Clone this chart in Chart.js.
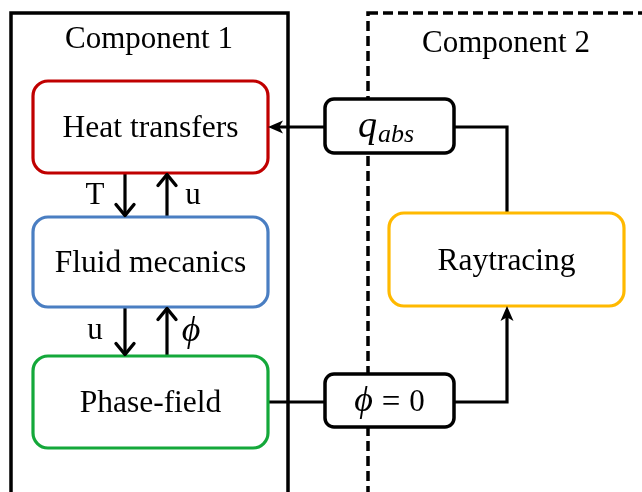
<!DOCTYPE html>
<html>
<head>
<meta charset="utf-8">
<script src="https://cdn.jsdelivr.net/npm/chart.js@4.4.0/dist/chart.umd.min.js"></script>
<style>
  html, body { margin: 0; padding: 0; background: #fff; }
  canvas { display: block; }
</style>
</head>
<body>
<canvas id="diagram" width="642" height="492"></canvas>
<script>
// --- content of the diagram ---
const groupLabels = ['Component 1', 'Component 2'];
const nodeLabels = ['Heat transfers', 'Fluid mecanics', 'Phase-field', 'Raytracing'];
const nodeColors = ['#C00000', '#4A7EC2', '#14A83A', '#FFB900'];
const exchangeLabels = ['q_abs', 'ϕ = 0'];
const couplingLabels = ['T', 'u', 'u', 'ϕ'];

// --- layout, in data units of the hidden x/y scales ---
const groupBoxes = [
  { x0: 11, y0: 13, x1: 288, y1: 520, dashed: false, tx: 149, ty: 48 },
  { x0: 368, y0: 13, x1: 680, y1: 520, dashed: true, tx: 506, ty: 52 }
];
const nodeBoxes = [
  { x0: 33, y0: 81, x1: 268, y1: 173 },
  { x0: 33, y0: 217, x1: 268, y1: 307 },
  { x0: 33, y0: 356, x1: 268, y1: 448 },
  { x0: 389, y0: 213, x1: 624, y1: 306 }
];
const exchangeBoxes = [
  { x0: 325, y0: 99, x1: 454, y1: 153 },
  { x0: 325, y0: 374, x1: 454, y1: 427 }
];
const couplingPos = [
  { x: 95, y: 204, italic: false },
  { x: 193, y: 204, italic: false },
  { x: 95, y: 339, italic: false },
  { x: 191, y: 341, italic: true }
];
// connectors: points, arrow type at the last point
const connectors = [
  { pts: [[325, 127], [268, 127]], head: 'fill' },
  { pts: [[454, 127], [507, 127], [507, 213]], head: null },
  { pts: [[268, 402], [325, 402]], head: null },
  { pts: [[454, 402], [507, 402], [507, 306]], head: 'fill' },
  { pts: [[125, 173], [125, 217]], head: 'open' },
  { pts: [[167, 217], [167, 173]], head: 'open' },
  { pts: [[125, 307], [125, 356]], head: 'open' },
  { pts: [[167, 356], [167, 307]], head: 'open' }
];

const SERIF = '"Liberation Serif", "Times New Roman", "DejaVu Serif", serif';
const HEAD_LEN = 15, HEAD_HALF = 6.5;

function shortened(c) {
  // stop the line a bit before a filled tip so the head stays sharp
  const pts = c.pts.map(p => ({ x: p[0], y: p[1] }));
  if (c.head === 'fill') {
    const a = pts[pts.length - 2], b = pts[pts.length - 1];
    const dx = b.x - a.x, dy = b.y - a.y, L = Math.hypot(dx, dy);
    pts[pts.length - 1] = { x: b.x - dx / L * HEAD_LEN * 0.7, y: b.y - dy / L * HEAD_LEN * 0.7 };
  }
  return pts;
}

function roundRect(ctx, x0, y0, x1, y1, r) {
  ctx.beginPath();
  ctx.moveTo(x0 + r, y0);
  ctx.lineTo(x1 - r, y0);
  ctx.arcTo(x1, y0, x1, y0 + r, r);
  ctx.lineTo(x1, y1 - r);
  ctx.arcTo(x1, y1, x1 - r, y1, r);
  ctx.lineTo(x0 + r, y1);
  ctx.arcTo(x0, y1, x0, y1 - r, r);
  ctx.lineTo(x0, y0 + r);
  ctx.arcTo(x0, y0, x0 + r, y0, r);
  ctx.closePath();
}

const diagramPlugin = {
  id: 'diagram',
  beforeDatasetsDraw(chart) {
    const { ctx, scales: { x, y } } = chart;
    ctx.save();
    groupBoxes.forEach((g, i) => {
      ctx.strokeStyle = '#000';
      ctx.lineWidth = 3.5;
      ctx.setLineDash(g.dashed ? [10, 5] : []);
      ctx.strokeRect(x.getPixelForValue(g.x0), y.getPixelForValue(g.y0),
        x.getPixelForValue(g.x1) - x.getPixelForValue(g.x0),
        y.getPixelForValue(g.y1) - y.getPixelForValue(g.y0));
      ctx.setLineDash([]);
      ctx.fillStyle = '#000';
      ctx.font = '31px ' + SERIF;
      ctx.textAlign = 'center';
      ctx.textBaseline = 'alphabetic';
      ctx.fillText(groupLabels[i], x.getPixelForValue(g.tx), y.getPixelForValue(g.ty));
    });
    ctx.restore();
  },
  afterDatasetsDraw(chart) {
    const { ctx, scales: { x, y } } = chart;
    const px = v => x.getPixelForValue(v), py = v => y.getPixelForValue(v);
    ctx.save();
    ctx.textAlign = 'center';
    ctx.textBaseline = 'alphabetic';

    // process boxes
    nodeBoxes.forEach((b, i) => {
      roundRect(ctx, px(b.x0), py(b.y0), px(b.x1), py(b.y1), 15);
      ctx.fillStyle = '#fff';
      ctx.fill();
      ctx.strokeStyle = nodeColors[i];
      ctx.lineWidth = 3.2;
      ctx.stroke();
      ctx.fillStyle = '#000';
      ctx.font = '31.5px ' + SERIF;
      ctx.fillText(nodeLabels[i], px((b.x0 + b.x1) / 2), py((b.y0 + b.y1) / 2) + 10);
    });

    // exchanged quantities
    exchangeBoxes.forEach((b, i) => {
      roundRect(ctx, px(b.x0), py(b.y0), px(b.x1), py(b.y1), 9);
      ctx.fillStyle = '#fff';
      ctx.fill();
      ctx.strokeStyle = '#000';
      ctx.lineWidth = 3.5;
      ctx.stroke();
      ctx.fillStyle = '#000';
      const cx = px((b.x0 + b.x1) / 2), cy = py((b.y0 + b.y1) / 2);
      ctx.textAlign = 'left';
      if (exchangeLabels[i].includes('_')) {
        const [main, sub] = exchangeLabels[i].split('_');
        ctx.font = 'italic 38px ' + SERIF;
        const w1 = ctx.measureText(main).width;
        ctx.font = 'italic 26px ' + SERIF;
        const w2 = ctx.measureText(sub).width;
        const start = cx - (w1 + w2) / 2 - 4;
        ctx.font = 'italic 38px ' + SERIF;
        ctx.fillText(main, start, cy + 11);
        ctx.font = 'italic 26px ' + SERIF;
        ctx.fillText(sub, start + w1 + 1, cy + 16);
      } else {
        const parts = exchangeLabels[i].split(' ');
        const fonts = ['italic 36px ', '33px ', '31px '].map(f => f + SERIF);
        const shift = [0, 1, 0];
        const gap = 9;
        const widths = parts.map((p, k) => {
          ctx.font = fonts[k];
          return ctx.measureText(p).width;
        });
        const total = widths.reduce((a, b) => a + b, 0) + gap * (parts.length - 1);
        let xx = cx - total / 2;
        parts.forEach((p, k) => {
          ctx.font = fonts[k];
          ctx.fillText(p, xx, cy + 10 + shift[k]);
          xx += widths[k] + gap;
        });
      }
      ctx.textAlign = 'center';
    });

    // arrow heads
    connectors.forEach(c => {
      if (!c.head) return;
      const a = c.pts[c.pts.length - 2], b = c.pts[c.pts.length - 1];
      const tx = px(b[0]), ty = py(b[1]);
      const dx = tx - px(a[0]), dy = ty - py(a[1]), L = Math.hypot(dx, dy);
      const ux = dx / L, uy = dy / L, nx = -uy, ny = ux;
      ctx.fillStyle = '#000';
      ctx.strokeStyle = '#000';
      if (c.head === 'fill') {
        ctx.beginPath();
        ctx.moveTo(tx, ty);
        ctx.lineTo(tx - ux * HEAD_LEN + nx * HEAD_HALF, ty - uy * HEAD_LEN + ny * HEAD_HALF);
        ctx.lineTo(tx - ux * HEAD_LEN * 0.75, ty - uy * HEAD_LEN * 0.75);
        ctx.lineTo(tx - ux * HEAD_LEN - nx * HEAD_HALF, ty - uy * HEAD_LEN - ny * HEAD_HALF);
        ctx.closePath();
        ctx.fill();
      } else {
        const ox = tx - ux * 1.5, oy = ty - uy * 1.5;
        ctx.lineWidth = 3.4;
        ctx.lineJoin = 'round';
        ctx.lineCap = 'round';
        ctx.beginPath();
        ctx.moveTo(ox - ux * 11 + nx * 9, oy - uy * 11 + ny * 9);
        ctx.lineTo(ox, oy);
        ctx.lineTo(ox - ux * 11 - nx * 9, oy - uy * 11 - ny * 9);
        ctx.stroke();
      }
    });

    // coupling variable labels
    couplingLabels.forEach((t, i) => {
      const p = couplingPos[i];
      ctx.fillStyle = '#000';
      ctx.font = (p.italic ? 'italic 36px ' : '31px ') + SERIF;
      ctx.fillText(t, px(p.x), py(p.y));
    });
    ctx.restore();
  }
};

new Chart(document.getElementById('diagram'), {
  type: 'scatter',
  data: {
    datasets: connectors.map(c => ({
      data: shortened(c),
      showLine: true,
      borderColor: '#000',
      borderWidth: 3.2,
      pointRadius: 0,
      fill: false,
      tension: 0,
      clip: false
    }))
  },
  options: {
    responsive: false,
    animation: false,
    events: [],
    layout: { padding: 0 },
    plugins: { legend: { display: false }, tooltip: { enabled: false } },
    scales: {
      x: { type: 'linear', min: 0, max: 642, display: false },
      y: { type: 'linear', min: 0, max: 492, reverse: true, display: false }
    }
  },
  plugins: [diagramPlugin]
});
</script>
</body>
</html>
